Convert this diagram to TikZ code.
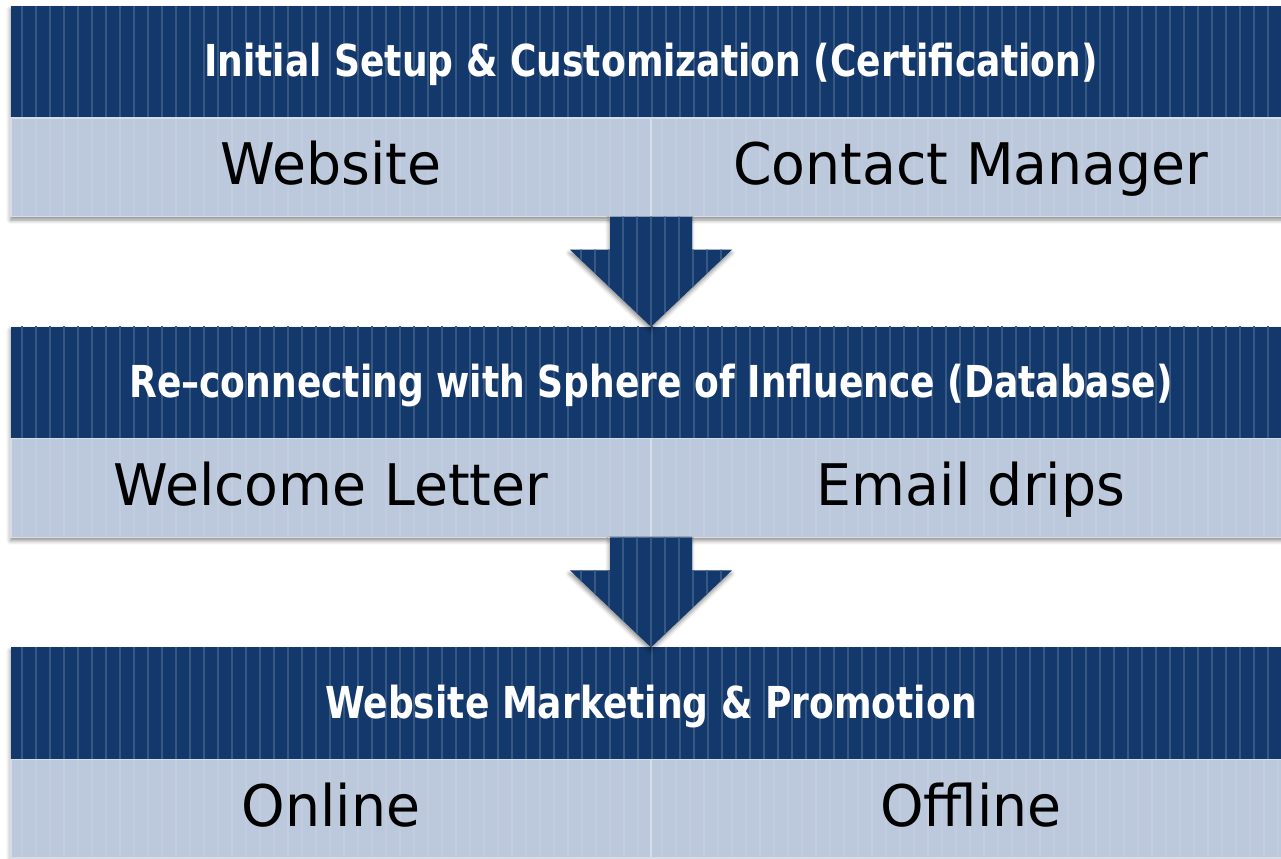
\documentclass[tikz,border=0pt]{standalone}
\usepackage{fontspec}
\setmainfont{DejaVu Sans}[FakeStretch=0.965]
\newfontfamily\headfont{DejaVu Sans}[FakeStretch=0.82]
\usetikzlibrary{positioning,shadows.blur}

\definecolor{navy}{RGB}{19,56,107}
\definecolor{navyline}{RGB}{56,88,132}
\definecolor{pale}{RGB}{188,201,221}
\definecolor{paleline}{RGB}{214,221,233}

\begin{document}
\begin{tikzpicture}[
    stripes/.style={path picture={
        \foreach \i in {0,...,95}
            \draw[#1, line width=1pt] ([xshift=8.25pt+10.5pt*\i]path picture bounding box.south west) -- ++(0,120pt);}},
    soft/.style={blur shadow={shadow xshift=-0.5pt, shadow yshift=-2.5pt, shadow blur radius=3pt, shadow opacity=45}},
    stage/.style={fill=pale, soft, minimum width=960pt, minimum height=158pt, inner sep=0pt, outer sep=0pt},
    head/.style={fill=navy, stripes=navyline, minimum width=960pt, minimum height=84pt,
        inner sep=0pt, outer sep=0pt, text height=24pt, text depth=1.6pt,
        text=white, font=\headfont\bfseries\fontsize{33}{36}\selectfont},
    cell/.style={fill=pale, draw=paleline, line width=0.8pt, stripes={white,opacity=0.1},
        minimum width=480pt, minimum height=74pt, inner sep=0pt, outer sep=0pt,
        text height=31.4pt, text depth=5.2pt, font=\fontsize{43}{48}\selectfont},
    down/.style={fill=navy, soft, stripes=navyline}
]
    \useasboundingbox (0,0) rectangle (960.75pt,-643.5pt);

    % first stage
    \node[stage, anchor=north west] (s1) at (8.25pt,-4.5pt) {};
    \node[head, anchor=north] (head1) at (s1.north) {Initial Setup \& Customization (Certification)};
    \node[cell, below right=0pt and 0pt of head1.south west] (web) {Website};
    \node[cell, right=0pt of web] (contact) {Contact Manager};

    % second stage
    \node[stage, below right=82.5pt and 0pt of s1.south west] (s2) {};
    \node[head, anchor=north] (head2) at (s2.north) {Re–connecting with Sphere of Influence (Database)};
    \node[cell, below right=0pt and 0pt of head2.south west] (letter) {Welcome Letter};
    \node[cell, right=0pt of letter] (drips) {Email drips};

    % third stage
    \node[stage, below right=82.5pt and 0pt of s2.south west] (s3) {};
    \node[head, anchor=north] (head3) at (s3.north) {Website Marketing \& Promotion};
    \node[cell, below right=0pt and 0pt of head3.south west] (online) {Online};
    \node[cell, right=0pt of online] (offline) {Offline};

    % block arrows between the stages
    \path[down] (web.south east) ++(-30.75pt,0) -- ++(0,-24.75pt) -- ++(-30pt,0) -- (head2.north)
        -- ++(60.75pt,57.75pt) -- ++(-30pt,0) -- ++(0,24.75pt) -- cycle;
    \path[down] (letter.south east) ++(-30.75pt,0) -- ++(0,-24.75pt) -- ++(-30pt,0) -- (head3.north)
        -- ++(60.75pt,57.75pt) -- ++(-30pt,0) -- ++(0,24.75pt) -- cycle;
\end{tikzpicture}
\end{document}
